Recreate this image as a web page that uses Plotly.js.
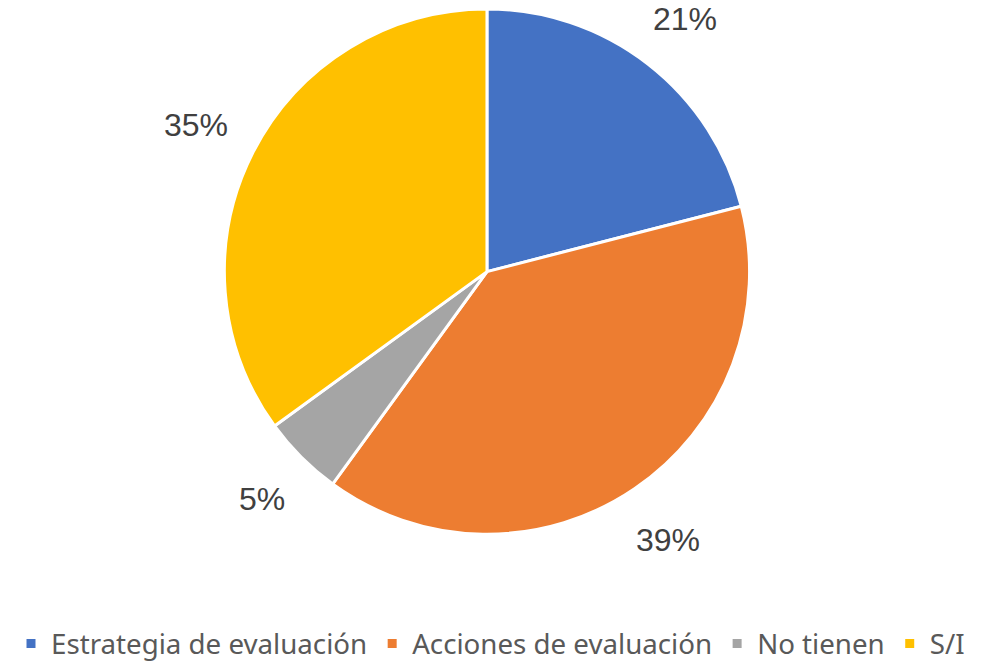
<!DOCTYPE html>
<html>
<head>
<meta charset="utf-8">
<script src="https://cdn.plot.ly/plotly-3.0.1.min.js"></script>
<style>html,body{margin:0;padding:0;background:#fff;}#chart{width:981px;height:669px;}</style>
</head>
<body>
<div id="chart"></div>
<script>
var categories = ["Estrategia de evaluación", "Acciones de evaluación", "No tienen", "S/I"];
var values = [21, 39, 5, 35];
var colors = ["#4472C4", "#ED7D31", "#A5A5A5", "#FFC000"];

var W = 981, H = 669;
var domX = [0.2283, 0.7645], domY = [0.2003, 0.9865];

// pie geometry derived from the domain (Plotly: radius = min(w,h)/2)
var cx = (domX[0] + domX[1]) / 2 * W;
var cy = (1 - (domY[0] + domY[1]) / 2) * H;
var R = Math.min((domX[1] - domX[0]) * W, (domY[1] - domY[0]) * H) / 2;

var total = values.reduce(function (a, b) { return a + b; }, 0);
var labelSize = 32;
var annotations = [];
var cum = 0;
values.forEach(function (v) {
  var mid = (cum + v / 2) / total * 2 * Math.PI; // clockwise from 12 o'clock
  cum += v;
  var txt = Math.round(v / total * 100) + "%";
  var w = labelSize * (0.556 * (txt.length - 1) + 0.889);
  var h = 32;
  var s = Math.sin(mid), c = Math.cos(mid);
  var ext = Math.abs(w / 2 * s) + Math.abs(h / 2 * c);
  var d = R + 28 + ext;
  var px = cx + d * s, py = cy - d * c;
  annotations.push({
    text: txt, showarrow: false,
    xref: "paper", yref: "paper",
    x: px / W, y: 1 - py / H,
    xanchor: "center", yanchor: "middle",
    yshift: -2,
    font: {family: "Liberation Sans, Arial, sans-serif", size: labelSize, color: "#404040"}
  });
});

var trace = {
  type: "pie",
  labels: categories,
  values: values,
  sort: false,
  direction: "clockwise",
  rotation: 0,
  textinfo: "none",
  marker: {colors: colors, line: {color: "#ffffff", width: 3}},
  domain: {x: domX, y: domY},
  automargin: false,
  hoverinfo: "none"
};

var layout = {
  width: W,
  height: H,
  margin: {l: 0, r: 0, t: 0, b: 0},
  paper_bgcolor: "#ffffff",
  showlegend: true,
  annotations: annotations,
  legend: {
    orientation: "h",
    x: 0.5, xanchor: "center",
    y: 0.036, yanchor: "middle",
    font: {family: "Noto Sans, sans-serif", size: 27.7, color: "#595959"},
    traceorder: "normal"
  }
};

Plotly.newPlot("chart", [trace], layout, {displayModeBar: false, staticPlot: true});
</script>
</body>
</html>
